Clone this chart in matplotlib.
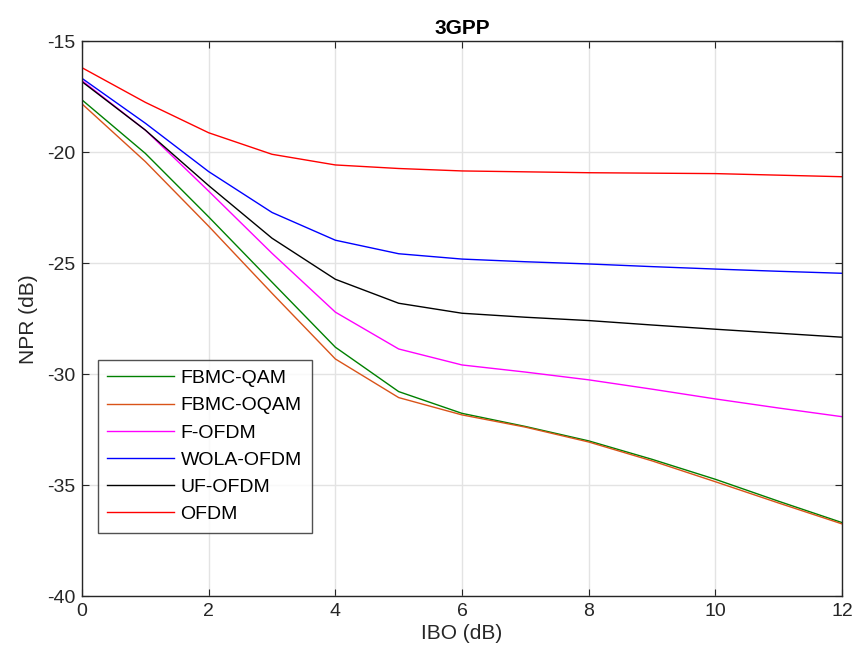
import numpy as np
import matplotlib
matplotlib.use('Agg')
import matplotlib.pyplot as plt

plt.rcParams['font.family'] = ['Liberation Sans', 'DejaVu Sans']
plt.rcParams['axes.unicode_minus'] = False

ibo = np.arange(0, 13)

fbmc_qam = [-17.64, -20.05, -22.91, -25.85, -28.78, -30.78, -31.76, -32.35, -33.0, -33.83, -34.73, -35.72, -36.68]
fbmc_oqam = [-17.82, -20.42, -23.33, -26.35, -29.31, -31.05, -31.83, -32.38, -33.05, -33.9, -34.84, -35.8, -36.74]
f_ofdm = [-16.77, -19.0, -21.75, -24.55, -27.2, -28.86, -29.58, -29.9, -30.25, -30.67, -31.11, -31.52, -31.91]
wola_ofdm = [-16.67, -18.69, -20.87, -22.71, -23.96, -24.57, -24.81, -24.93, -25.03, -25.15, -25.26, -25.36, -25.45]
uf_ofdm = [-16.82, -19.0, -21.5, -23.87, -25.72, -26.8, -27.25, -27.43, -27.58, -27.78, -27.97, -28.15, -28.33]
ofdm = [-16.19, -17.75, -19.12, -20.09, -20.57, -20.73, -20.84, -20.88, -20.92, -20.94, -20.96, -21.03, -21.1]

series = [
    ('FBMC-QAM', fbmc_qam, '#008000'),
    ('FBMC-OQAM', fbmc_oqam, '#D95319'),
    ('F-OFDM', f_ofdm, '#FF00FF'),
    ('WOLA-OFDM', wola_ofdm, '#0000FF'),
    ('UF-OFDM', uf_ofdm, '#000000'),
    ('OFDM', ofdm, '#FF0000'),
]

fig = plt.figure(figsize=(8.57, 6.64), dpi=100)
ax = fig.add_axes([0.0957, 0.102, 0.8868, 0.8358])

for name, vals, col in series:
    ax.plot(ibo, vals, color=col, linewidth=1.0, label=name)

ax.set_xlim(0, 12)
ax.set_ylim(-40, -15)
ax.set_xticks(np.arange(0, 13, 2))
ax.set_yticks(np.arange(-40, -14, 5))
ax.grid(True, color='#E3E3E3', linewidth=1.0)
ax.set_axisbelow(True)
for s in ax.spines.values():
    s.set_color('#262626')
    s.set_linewidth(1.0)
ax.tick_params(direction='in', top=True, right=True, labelsize=14, colors='#262626', length=5, pad=5)
ax.set_xlabel('IBO (dB)', fontsize=15, color='#262626', labelpad=3)
ax.set_ylabel('NPR (dB)', fontsize=15, color='#262626', labelpad=6)
ax.set_title('3GPP', fontsize=15, fontweight='bold', pad=5)

# legend box sits low-left like the matlab one
leg = ax.legend(loc='lower left', bbox_to_anchor=(0.0207, 0.1146), fontsize=14,
                frameon=True, fancybox=False, edgecolor='#262626', handlelength=3.4,
                borderpad=0.5, labelspacing=0.49, handletextpad=0.36,
                borderaxespad=0.0)
leg.get_frame().set_linewidth(1.0)

fig.savefig('out.png', dpi=100)
